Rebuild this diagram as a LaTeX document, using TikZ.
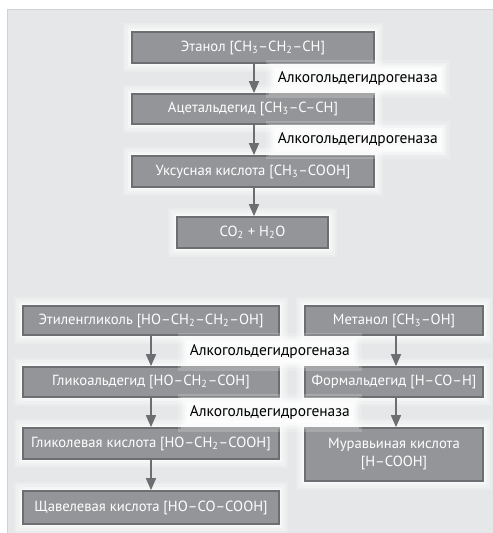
\documentclass[tikz,border=0pt]{standalone}
\usepackage{fontspec}
\setmainfont{PT Sans}
\usetikzlibrary{arrows.meta}
\definecolor{panel}{HTML}{E6E7E8}
\definecolor{panelline}{HTML}{D1D2D4}
\definecolor{boxfill}{HTML}{939598}
\definecolor{boxline}{HTML}{6D6E71}
\newcommand{\sbs}[1]{\textsubscript{#1}}
\newcommand{\bx}[6]{\node[box, minimum width={(#4-#2)*0.75pt}, minimum height={(#5-#3)*0.75pt}] (#1) at ({(#2+#4)/2},{(#3+#5)/2}) {#6};}
\tikzset{
  glow/.style={
    preaction={draw=white, line width=14pt, draw opacity=0.18},
    preaction={draw=white, line width=10pt, draw opacity=0.25},
    preaction={draw=white, line width=6pt, draw opacity=0.35},
    preaction={draw=white, line width=3pt, draw opacity=0.5}},
  box/.style={draw=boxline, line width=1.3pt, fill=boxfill, text=white, glow,
    inner sep=0pt, align=center, font=\fontsize{11}{13.5}\selectfont},
  enz/.style={fill=white, fill opacity=0.7, text opacity=1, glow, text=black,
    inner sep=2pt, anchor=west, font=\fontsize{11.6}{13}\selectfont},
  arr/.style={draw=boxline, line width=1.2pt, -{Triangle[width=7.5pt,length=9pt]}, boxline}
}
\begin{document}
\begin{tikzpicture}[x=0.75pt,y=-0.75pt]
\useasboundingbox (0,0) rectangle (493,533);
\fill[panel] (7,9) rectangle (493,533);
\draw[panelline, line width=1.2pt] (7.5,533) -- (7.5,9.5) -- (493,9.5);
% top column
\bx{eth}{132}{32}{374}{63}{Этанол [CH\sbs{3}–CH\sbs{2}–CH]}
\bx{ace}{132}{94}{374}{124}{Ацетальдегид [CH\sbs{3}–C–CH]}
\bx{acet}{132}{156}{374}{187}{Уксусная кислота [CH\sbs{3}–COOH]}
\bx{co}{177}{217}{328}{248}{CO\sbs{2} + H\sbs{2}O}
\node[enz] (e1) at (275,79) {Алкогольдегидрогеназа};
\node[enz] (e2) at (275,140) {Алкогольдегидрогеназа};
% bottom left
\bx{eg}{23}{306}{279}{335}{Этиленгликоль [HO–CH\sbs{2}–CH\sbs{2}–OH]}
\bx{gla}{23}{367}{279}{397}{Гликоальдегид [HO–CH\sbs{2}–COH]}
\bx{glac}{23}{428}{279}{459}{Гликолевая кислота [HO–CH\sbs{2}–COOH]}
\bx{ox}{23}{491}{279}{524}{Щавелевая кислота [HO–CO–COOH]}
% bottom right
\bx{me}{305}{306}{483}{335}{Метанол [CH\sbs{3}–OH]}
\bx{fa}{305}{367}{483}{397}{Формальдегид [H–CO–H]}
\bx{fo}{305}{428}{483}{481}{Муравьиная кислота\\{}[H–COOH]}
\node[enz] (e3) at (187,352) {Алкогольдегидрогеназа};
\node[enz] (e4) at (187,413) {Алкогольдегидрогеназа};
% arrows
\draw[arr] (eth.south -| 254,0) -- (ace.north -| 254,0);
\draw[arr] (ace.south -| 254,0) -- (acet.north -| 254,0);
\draw[arr] (acet.south -| 254,0) -- (co.north -| 254,0);
\draw[arr] (eg) -- (gla);
\draw[arr] (gla) -- (glac);
\draw[arr] (glac) -- (ox);
\draw[arr] (me.south -| 396,0) -- (fa.north -| 396,0);
\draw[arr] (fa.south -| 396,0) -- (fo.north -| 396,0);
\end{tikzpicture}
\end{document}
